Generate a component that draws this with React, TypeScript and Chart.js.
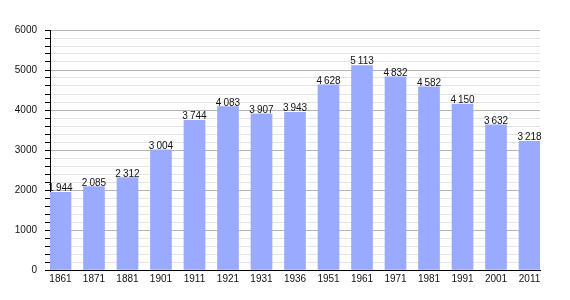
import React, { useEffect, useRef } from "react";
import { Chart, registerables } from "chart.js";

Chart.register(...registerables);

const years = ["1861", "1871", "1881", "1901", "1911", "1921", "1931", "1936", "1951", "1961", "1971", "1981", "1991", "2001", "2011"];
const population = [1944, 2085, 2312, 3004, 3744, 4083, 3907, 3943, 4628, 5113, 4832, 4582, 4150, 3632, 3218];

const FONT = "'Liberation Sans', Arial, sans-serif";

const fmt = (v: number) => {
  const s = String(v);
  return s.length > 3 ? s.slice(0, s.length - 3) + "\u2009" + s.slice(s.length - 3) : s;
};

const labelPlugin = {
  id: "valueLabels",
  afterDatasetsDraw(chart: any) {
    const ctx = chart.ctx;
    const meta = chart.getDatasetMeta(0);
    ctx.save();
    ctx.font = `10px ${FONT}`;
    ctx.fillStyle = "#111";
    ctx.textAlign = "center";
    ctx.textBaseline = "alphabetic";
    meta.data.forEach((el: any, i: number) => {
      ctx.fillText(fmt(population[i]), el.x, el.y - 1);
    });
    ctx.restore();
  },
};

export default function App() {
  const ref = useRef<HTMLCanvasElement | null>(null);
  useEffect(() => {
    document.body.style.margin = "0";
    const chart = new Chart(ref.current!, {
      type: "bar",
      data: {
        datasets: [
          {
            data: population.map((y, i) => ({ x: i, y })),
            backgroundColor: "#99aaff",
            borderWidth: 0,
            barThickness: 21,
          },
        ],
      },
      options: {
        responsive: false,
        animation: false,
        layout: { padding: { top: 30, right: 30, left: 0, bottom: 0 } },
        plugins: { legend: { display: false }, tooltip: { enabled: false } },
        scales: {
          x: {
            type: "linear",
            offset: false,
            min: -0.313,
            max: 14.313,
            afterFit: (s: any) => {
              s.height = 30;
            },
            afterBuildTicks: (s: any) => {
              s.ticks = years.map((_, i) => ({ value: i }));
            },
            grid: { display: false, drawTicks: false },
            border: { display: true, color: "#000", width: 1 },
            ticks: {
              padding: 3,
              autoSkip: false,
              maxRotation: 0,
              color: "#111",
              font: { size: 10, family: FONT },
              callback: (v: any) => years[Math.round(Number(v))] ?? "",
            },
          },
          y: {
            min: 0,
            max: 6000,
            afterFit: (s: any) => {
              s.width = 50;
            },
            border: { display: true, color: "#000", width: 1 },
            grid: {
              color: (c: any) => (c.tick && c.tick.value % 1000 === 0 ? "#b4b4b4" : "#e4e4e4"),
              tickColor: "#000",
              tickLength: 5,
              drawTicks: true,
            },
            ticks: {
              stepSize: 200,
              autoSkip: false,
              padding: 8,
              color: "#111",
              font: { size: 10, family: FONT },
              callback: (v: any) => (Number(v) % 1000 === 0 ? String(v) : ""),
            },
          },
        },
      },
      plugins: [labelPlugin],
    } as any);
    return () => chart.destroy();
  }, []);
  return (
    <div style={{ width: 570, height: 300 }}>
      <canvas ref={ref} width={570} height={300} />
    </div>
  );
}
